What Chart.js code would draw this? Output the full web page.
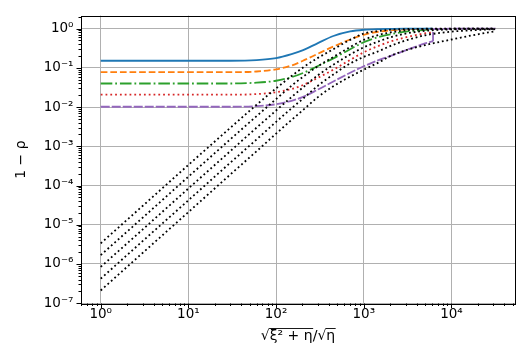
<!DOCTYPE html>
<html>
<head>
<meta charset="utf-8">
<script src="https://cdn.jsdelivr.net/npm/chart.js@4.4.1/dist/chart.umd.min.js"></script>
<style>
  html, body { margin: 0; padding: 0; background: #fff; }
  #wrap { width: 527px; height: 359px; }
</style>
</head>
<body>
<div id="wrap"><canvas id="c" width="527" height="359"></canvas></div>
<script>
// ---------- data ----------
const xBlack = [1, 3, 10, 30, 60, 100, 150, 200, 300, 450, 700, 1000, 1500, 2000, 3000, 5000, 10000, 20000, 31623];
const black1 = [3.35e-6, 3.0e-5, 3.35e-4, 2.95e-3, 0.0115, 0.030, 0.062, 0.10, 0.18, 0.30, 0.52, 0.75, 0.88, 0.94, 0.98, 0.995, 1.0, 1.0, 1.0];
const black2 = [1.68e-6, 1.5e-5, 1.68e-4, 1.5e-3, 5.9e-3, 0.016, 0.035, 0.058, 0.11, 0.19, 0.34, 0.52, 0.70, 0.80, 0.91, 0.97, 0.995, 1.0, 1.0];
const black3 = [8.4e-7, 7.5e-6, 8.4e-5, 7.5e-4, 3.0e-3, 0.0082, 0.018, 0.031, 0.065, 0.12, 0.22, 0.335, 0.48, 0.60, 0.75, 0.88, 0.96, 0.99, 0.995];
const black4 = [4.2e-7, 3.8e-6, 4.2e-5, 3.8e-4, 1.5e-3, 0.0042, 0.0093, 0.016, 0.035, 0.068, 0.13, 0.19, 0.27, 0.36, 0.50, 0.68, 0.84, 0.93, 0.97];
const black5 = [2.1e-7, 1.9e-6, 2.1e-5, 1.9e-4, 7.5e-4, 0.0021, 0.0047, 0.0082, 0.018, 0.034, 0.06, 0.09, 0.14, 0.20, 0.28, 0.38, 0.53, 0.72, 0.86];

const xColor = [1, 30, 60, 100, 150, 200, 300, 450, 700, 1000, 1500, 2000, 3000, 5000, 6170];
const blueY   = [0.152, 0.152, 0.158, 0.178, 0.225, 0.28, 0.43, 0.65, 0.85, 0.94, 0.98, 0.99, 1.0, 1.0, 1.0];
const orangeY = [0.078, 0.078, 0.081, 0.092, 0.115, 0.15, 0.23, 0.35, 0.53, 0.70, 0.84, 0.91, 0.96, 0.99, 0.995];
const greenY  = [0.040, 0.040, 0.042, 0.047, 0.058, 0.073, 0.112, 0.175, 0.30, 0.45, 0.62, 0.72, 0.84, 0.93, 0.95];
const redY    = [0.0207, 0.0207, 0.0215, 0.024, 0.029, 0.036, 0.056, 0.09, 0.16, 0.25, 0.37, 0.47, 0.60, 0.76, 0.80];
const purpleY = [0.0102, 0.0102, 0.0106, 0.0118, 0.0145, 0.018, 0.028, 0.045, 0.075, 0.11, 0.16, 0.20, 0.28, 0.42, 0.48];
const xPurpleTail = [6170, 6170, 10000, 20000, 31623];
const purpleTailY = [0.48, 0.98, 1.0, 1.0, 1.0];

const xTitle = '√ξ² + η/√η';
const yTitle = '1 − ρ';

// ---------- helpers ----------
const pts = (xs, ys) => xs.map((x, i) => ({x: x, y: ys[i]}));
const SUP = {'-': '⁻', '0': '⁰', '1': '¹', '2': '²', '3': '³', '4': '⁴', '5': '⁵', '6': '⁶', '7': '⁷', '8': '⁸', '9': '⁹'};
function isPow10(v) { const e = Math.log10(v); return Math.abs(e - Math.round(e)) < 1e-9; }
function powLabel(v) {
  const e = String(Math.round(Math.log10(v)));
  return '10' + e.split('').map(c => SUP[c]).join('');
}
function logTicks(min, max) {
  const out = [];
  for (let e = Math.floor(Math.log10(min)) - 1; e <= Math.ceil(Math.log10(max)); e++) {
    for (let m = 1; m <= 9; m++) {
      const v = m * Math.pow(10, e);
      if (v >= min * 0.999999 && v <= max * 1.000001) out.push({value: v, major: m === 1});
    }
  }
  return out;
}

const X_MIN = Math.pow(10, -0.225), X_MAX = Math.pow(10, 4.725);
const Y_MIN = Math.pow(10, -7.01), Y_MAX = Math.pow(10, 0.334);

const C = {
  blue: '#1f77b4', orange: '#ff7f0e', green: '#2ca02c', red: '#d62728', purple: '#9467bd'
};
const LW = 1.8;

function blackDs(ys) {
  return {data: pts(xBlack, ys), borderColor: '#000', borderWidth: LW, borderDash: [1.8, 2.8],
          pointRadius: 0, cubicInterpolationMode: 'monotone', fill: false};
}
function colorDs(ys, col, dash, xs) {
  return {data: pts(xs || xColor, ys), borderColor: col, borderWidth: LW, borderDash: dash,
          pointRadius: 0, cubicInterpolationMode: 'monotone', fill: false};
}

const frame = {
  id: 'frame',
  afterDraw(chart) {
    const ctx = chart.ctx, ca = chart.chartArea;
    const xs = chart.scales.x, ys = chart.scales.y;
    ctx.save();
    ctx.strokeStyle = '#000';
    ctx.lineWidth = 1;
    xs.ticks.forEach(t => {
      const p = Math.round(xs.getPixelForValue(t.value)) + 0.5;
      const len = isPow10(t.value) ? 4.5 : 2.5;
      ctx.beginPath(); ctx.moveTo(p, ca.bottom); ctx.lineTo(p, ca.bottom + len); ctx.stroke();
    });
    ys.ticks.forEach(t => {
      const p = Math.round(ys.getPixelForValue(t.value)) + 0.5;
      const len = isPow10(t.value) ? 4.5 : 2.5;
      ctx.beginPath(); ctx.moveTo(ca.left, p); ctx.lineTo(ca.left - len, p); ctx.stroke();
    });
    ctx.strokeRect(Math.round(ca.left) + 0.5, Math.round(ca.top) + 0.5,
                   Math.round(ca.right - ca.left), Math.round(ca.bottom - ca.top));
    // radical overlines for the x title
    const tOpts = xs.options.title;
    const fontSize = tOpts.font.size;
    ctx.font = fontSize + 'px "DejaVu Sans"';
    ctx.textBaseline = 'middle';
    const lh = fontSize * 1.2;
    const ty = xs.bottom - (lh / 2 + tOpts.padding.bottom);
    const tx = (xs.left + xs.right) / 2;
    const W = ctx.measureText(xTitle).width;
    const x0 = tx - W / 2;
    const asc = ctx.measureText('√').actualBoundingBoxAscent;
    const yTop = Math.round(ty - asc) + 0.5;
    const w1 = ctx.measureText('√').width;
    const w2 = ctx.measureText('√ξ² + η').width;
    const w3 = ctx.measureText('√ξ² + η/√').width;
    ctx.lineWidth = 0.9;
    ctx.beginPath();
    ctx.moveTo(x0 + w1 - 0.6, yTop); ctx.lineTo(x0 + w2 + 0.5, yTop);
    ctx.moveTo(x0 + w3 - 0.6, yTop); ctx.lineTo(x0 + W + 0.5, yTop);
    ctx.stroke();
    ctx.restore();
  }
};

new Chart(document.getElementById('c'), {
  type: 'line',
  data: {
    datasets: [
      blackDs(black1), blackDs(black2), blackDs(black3), blackDs(black4), blackDs(black5),
      colorDs(purpleTailY, C.purple, [9, 2], xPurpleTail),
      colorDs(blueY, C.blue, []),
      colorDs(orangeY, C.orange, [6.7, 2.9]),
      colorDs(greenY, C.green, [11.6, 2.9, 1.8, 2.9]),
      colorDs(redY, C.red, [1.8, 3.0]),
      colorDs(purpleY, C.purple, [9, 2])
    ]
  },
  options: {
    responsive: false,
    animation: false,
    devicePixelRatio: 1,
    layout: {padding: {left: 0, right: 12, top: 10, bottom: 0}},
    plugins: {legend: {display: false}, tooltip: {enabled: false}, title: {display: false}},
    elements: {line: {borderCapStyle: 'butt', borderJoinStyle: 'round'}},
    scales: {
      x: {
        type: 'logarithmic', min: X_MIN, max: X_MAX, bounds: 'data',
        afterBuildTicks(s) { s.ticks = logTicks(X_MIN, X_MAX); },
        afterFit(s) { s.height = 55.5; },
        border: {display: false},
        grid: {drawTicks: false, lineWidth: 1,
               color: c => (c.tick && isPow10(c.tick.value)) ? '#b0b0b0' : 'rgba(0,0,0,0)'},
        ticks: {autoSkip: false, maxRotation: 0, padding: 3, color: '#000',
                font: {family: 'DejaVu Sans', size: 13.5},
                callback: v => (isPow10(v) && v >= 1 && v <= 1e4) ? powLabel(v) : ''},
        title: {display: true, text: xTitle, color: '#000', padding: {top: 0, bottom: 14},
                font: {family: 'DejaVu Sans', size: 14}}
      },
      y: {
        type: 'logarithmic', min: Y_MIN, max: Y_MAX, bounds: 'data',
        afterBuildTicks(s) { s.ticks = logTicks(Y_MIN, Y_MAX); },
        afterFit(s) { s.width = 81; },
        border: {display: false},
        grid: {drawTicks: false, lineWidth: 1,
               color: c => (c.tick && isPow10(c.tick.value)) ? '#b0b0b0' : 'rgba(0,0,0,0)'},
        ticks: {autoSkip: false, padding: 7.5, color: '#000',
                font: {family: 'DejaVu Sans', size: 13.5},
                callback: v => (isPow10(v) && v >= 1e-7 && v <= 1) ? powLabel(v) : ''},
        title: {display: true, text: yTitle, color: '#000', padding: {top: 12.6, bottom: 0},
                font: {family: 'DejaVu Sans', size: 14}}
      }
    }
  },
  plugins: [frame]
});
</script>
</body>
</html>
